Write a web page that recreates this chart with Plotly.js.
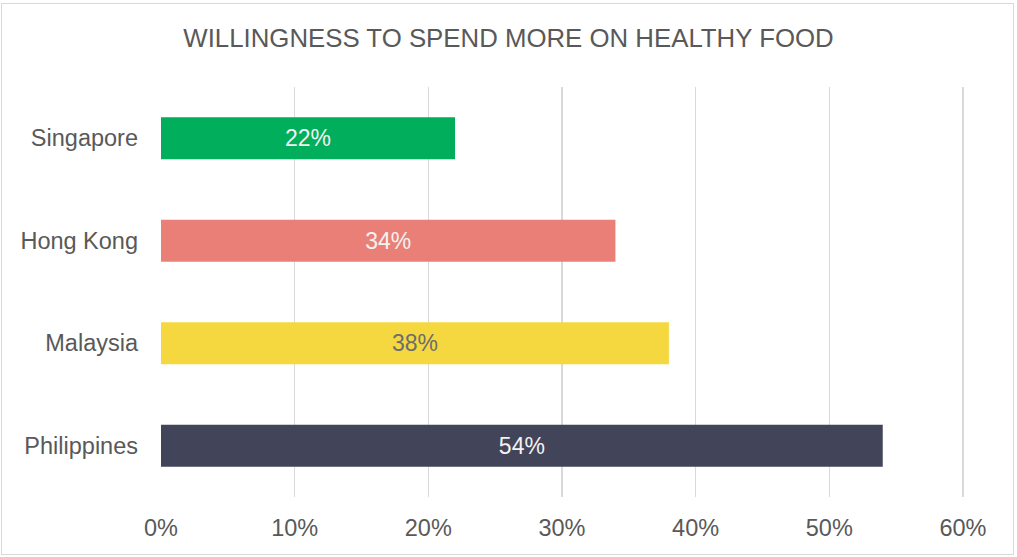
<!DOCTYPE html>
<html>
<head>
<meta charset="utf-8">
<script src="https://cdn.plot.ly/plotly-3.0.1.min.js"></script>
<style>
  html, body { margin: 0; padding: 0; background: #ffffff; }
  #wrap { position: relative; width: 1017px; height: 557px; }
  #chart { position: absolute; left: 0; top: 0; width: 1017px; height: 557px; }
  #frame { position: absolute; left: 1px; top: 3px; width: 1011px; height: 550px;
           border: 1.5px solid #d9d9d9; pointer-events: none; }
</style>
</head>
<body>
<div id="wrap">
  <div id="chart"></div>
  <div id="frame"></div>
</div>
<script>
const categories = ["Singapore", "Hong Kong", "Malaysia", "Philippines"];
const values = [0.22, 0.34, 0.38, 0.54];
const barColors = ["#00ae5b", "#e97f76", "#f5d83f", "#424459"];
const labelColors = ["#f2f2f2", "#f2f2f2", "#6d6d6d", "#f2f2f2"];
const xTickVals = [0, 0.1, 0.2, 0.3, 0.4, 0.5, 0.6];
const xTickText = ["0%", "10%", "20%", "30%", "40%", "50%", "60%"];
const titleText = "WILLINGNESS TO SPEND MORE ON HEALTHY FOOD";

const trace = {
  type: "bar",
  orientation: "h",
  y: categories,
  x: values,
  marker: { color: barColors },
  width: 0.41,
  text: values.map(v => Math.round(v * 100) + "%"),
  textposition: "inside",
  insidetextanchor: "middle",
  textangle: 0,
  textfont: { family: "Liberation Sans, Arial, sans-serif", size: 23, color: labelColors },
  hoverinfo: "skip"
};

const layout = {
  width: 1017,
  height: 557,
  margin: { l: 161, r: 53, t: 87, b: 60 },
  paper_bgcolor: "rgba(0,0,0,0)",
  plot_bgcolor: "#ffffff",
  showlegend: false,
  title: {
    text: titleText,
    font: { family: "Liberation Sans, Arial, sans-serif", size: 25.8, color: "#595959" },
    x: 0.5, xanchor: "center", xref: "container",
    y: 1 - 38 / 557, yanchor: "middle", yref: "container"
  },
  xaxis: {
    range: [0, 0.6008],
    tickvals: xTickVals,
    ticktext: xTickText,
    showgrid: true,
    gridcolor: "#d9d9d9",
    gridwidth: 1.5,
    zeroline: false,
    showline: false,
    ticks: "",
    ticklabelstandoff: 14,
    tickfont: { family: "Liberation Sans, Arial, sans-serif", size: 23.5, color: "#595959" },
    fixedrange: true
  },
  yaxis: {
    type: "category",
    categoryorder: "array",
    categoryarray: categories,
    autorange: "reversed",
    showgrid: false,
    zeroline: false,
    showline: false,
    ticks: "",
    ticklabelstandoff: 22,
    tickfont: { family: "Liberation Sans, Arial, sans-serif", size: 23.5, color: "#595959" },
    fixedrange: true
  }
};

Plotly.newPlot("chart", [trace], layout, { displayModeBar: false, staticPlot: true });
</script>
</body>
</html>
